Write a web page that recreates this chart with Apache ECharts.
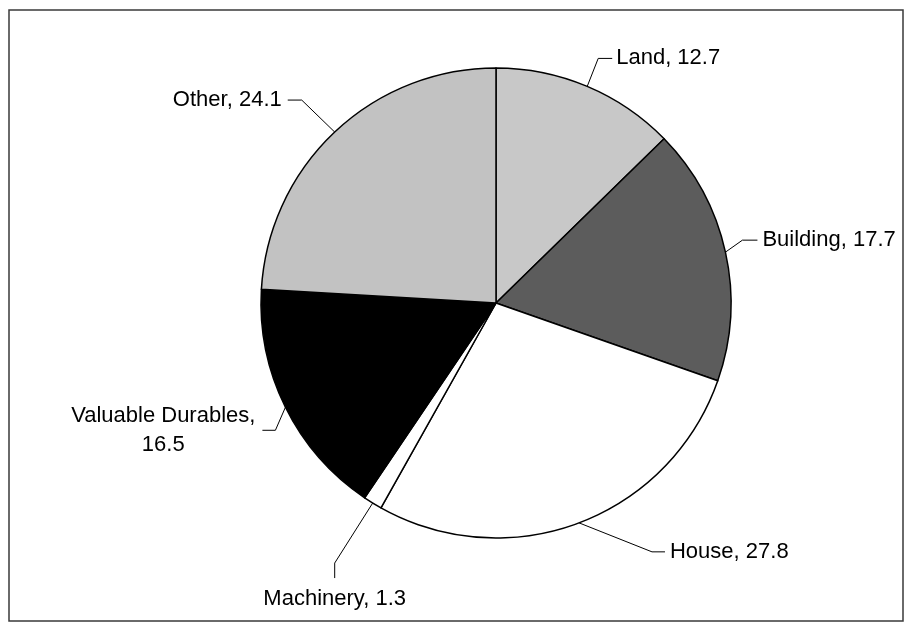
<!DOCTYPE html>
<html>
<head>
<meta charset="utf-8">
<script src="https://cdn.jsdelivr.net/npm/echarts@6/dist/echarts.min.js"></script>
<style>
  html, body { margin: 0; padding: 0; background: #fff; }
  #chart { width: 909px; height: 627px; }
</style>
</head>
<body>
<div id="chart"></div>
<script>
// Asset categories and their shares (%)
const categories = ['Land', 'Building', 'House', 'Machinery', 'Valuable Durables', 'Other'];
const shares = [12.7, 17.7, 27.8, 1.3, 16.5, 24.1];

// Fill for each slice
const sliceColors = ['#c8c8c8', '#5c5c5c', '#ffffff', '#ffffff', '#000000', '#c2c2c2'];

// Leader geometry, relative to the slice's rim point:
// bend = offset of the elbow, run = direction of the second segment, len = its length, gap = space before the text
const leaders = [
  { bend: [11, -28], run: 'right', len: 14, gap: 4 },
  { bend: [17, -12], run: 'right', len: 15, gap: 5 },
  { bend: [73, 29],  run: 'right', len: 13, gap: 5 },
  { bend: [-38, 60], run: 'down',  len: 15, gap: 6 },
  { bend: [-10, 23], run: 'left',  len: 13, gap: 7, block: true },
  { bend: [-33, -32], run: 'left', len: 14, gap: 6 }
];
const wrapped = { 'Valuable Durables': true };

const chart = echarts.init(document.getElementById('chart'), null, { renderer: 'canvas' });

chart.setOption({
  backgroundColor: '#ffffff',
  animation: false,
  color: sliceColors,
  graphic: [{
    type: 'rect',
    shape: { x: 9, y: 10, width: 894, height: 611 },
    style: { fill: null, stroke: '#3a3a3a', lineWidth: 1.5 },
    silent: true
  }],
  series: [{
    type: 'pie',
    center: [496, 303],
    radius: 235,
    startAngle: 90,
    clockwise: true,
    avoidLabelOverlap: false,
    silent: true,
    itemStyle: { borderColor: '#000', borderWidth: 1.5 },
    label: {
      show: true,
      position: 'outside',
      color: '#000',
      fontFamily: 'Liberation Sans, Arial, sans-serif',
      fontSize: 22,
      lineHeight: 29,
      formatter: function (p) {
        return p.name + (wrapped[p.name] ? ',\n' : ', ') + p.value;
      }
    },
    labelLine: {
      show: true,
      length: 20,
      length2: 14,
      smooth: false,
      lineStyle: { color: '#000', width: 1 }
    },
    labelLayout: function (params) {
      const g = leaders[params.dataIndex];
      const p0 = params.labelLinePoints[0];
      const elbow = [p0[0] + g.bend[0], p0[1] + g.bend[1]];
      let end, x, y, align, verticalAlign;
      if (g.run === 'down') {
        end = [elbow[0], elbow[1] + g.len];
        x = end[0];
        y = end[1] + g.gap;
        align = 'center';
        verticalAlign = 'top';
      } else {
        const s = g.run === 'right' ? 1 : -1;
        end = [elbow[0] + s * g.len, elbow[1]];
        y = end[1];
        verticalAlign = 'middle';
        if (g.block) {
          x = end[0] + s * (g.gap + params.labelRect.width / 2);
          align = 'center';
        } else {
          x = end[0] + s * g.gap;
          align = s > 0 ? 'left' : 'right';
        }
      }
      return {
        x: x, y: y, align: align, verticalAlign: verticalAlign,
        labelLinePoints: [p0, elbow, end]
      };
    },
    data: categories.map(function (name, i) {
      return { name: name, value: shares[i] };
    })
  }]
});
</script>
</body>
</html>
